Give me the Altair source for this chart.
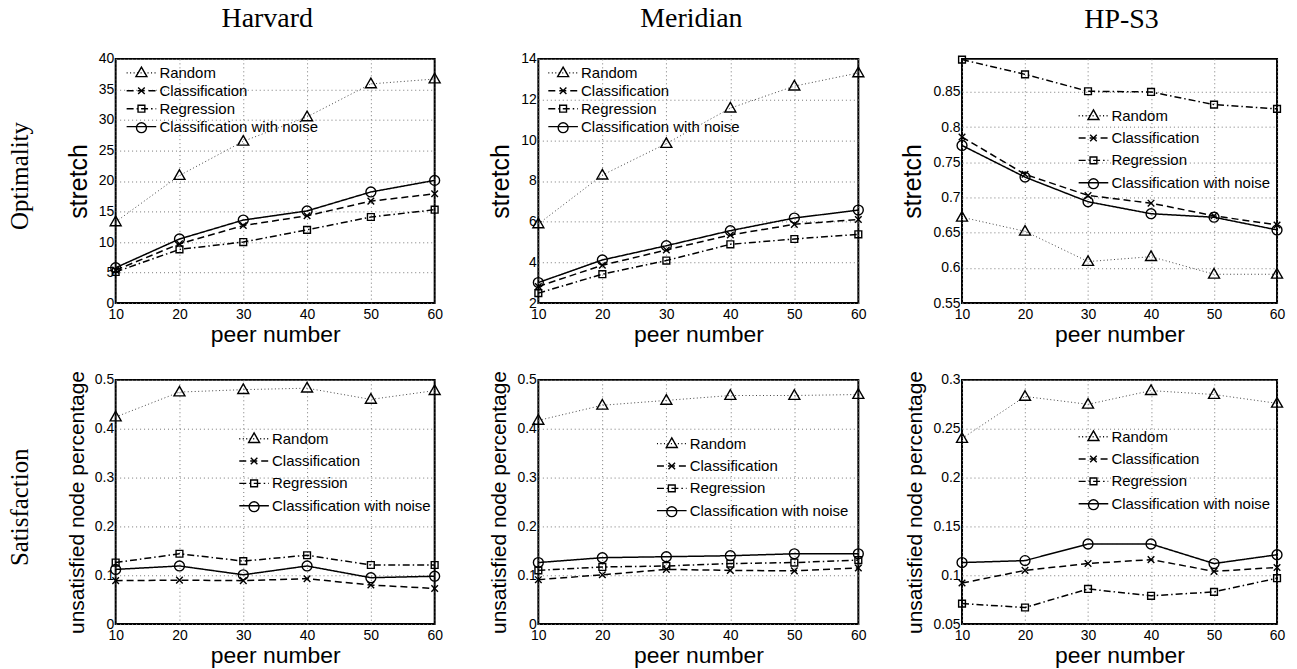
import altair as alt
import pandas as pd

peer_numbers = [10, 20, 30, 40, 50, 60]
series_names = ["Random", "Classification", "Regression", "Classification with noise"]

# Optimality (stretch)
harvard_stretch_random = [13.3, 20.9, 26.5, 30.5, 35.9, 36.7]
harvard_stretch_class = [5.4, 9.7, 12.7, 14.3, 16.7, 17.9]
harvard_stretch_regr = [5.1, 8.8, 10.0, 12.0, 14.1, 15.3]
harvard_stretch_noise = [5.8, 10.5, 13.6, 15.1, 18.2, 20.1]

meridian_stretch_random = [5.89, 8.29, 9.84, 11.58, 12.66, 13.31]
meridian_stretch_class = [2.82, 3.86, 4.61, 5.35, 5.87, 6.11]
meridian_stretch_regr = [2.49, 3.42, 4.09, 4.89, 5.15, 5.38]
meridian_stretch_noise = [3.01, 4.12, 4.82, 5.56, 6.18, 6.57]

hps3_stretch_random = [0.672, 0.652, 0.609, 0.616, 0.591, 0.591]
hps3_stretch_class = [0.786, 0.733, 0.703, 0.692, 0.674, 0.661]
hps3_stretch_regr = [0.896, 0.875, 0.851, 0.850, 0.832, 0.826]
hps3_stretch_noise = [0.774, 0.729, 0.694, 0.677, 0.672, 0.654]

# Satisfaction (unsatisfied node percentage)
harvard_sat_random = [0.424, 0.475, 0.480, 0.483, 0.460, 0.478]
harvard_sat_class = [0.089, 0.090, 0.089, 0.093, 0.080, 0.073]
harvard_sat_regr = [0.126, 0.144, 0.129, 0.141, 0.121, 0.121]
harvard_sat_noise = [0.112, 0.119, 0.101, 0.119, 0.095, 0.098]

meridian_sat_random = [0.417, 0.448, 0.458, 0.468, 0.468, 0.470]
meridian_sat_class = [0.091, 0.101, 0.112, 0.110, 0.109, 0.115]
meridian_sat_regr = [0.110, 0.117, 0.119, 0.124, 0.126, 0.131]
meridian_sat_noise = [0.126, 0.136, 0.138, 0.140, 0.144, 0.144]

hps3_sat_random = [0.240, 0.283, 0.275, 0.289, 0.285, 0.276]
hps3_sat_class = [0.092, 0.105, 0.112, 0.116, 0.104, 0.108]
hps3_sat_regr = [0.071, 0.067, 0.086, 0.079, 0.083, 0.097]
hps3_sat_noise = [0.113, 0.115, 0.132, 0.132, 0.112, 0.121]

dash_styles = [[1, 2.5], [7, 4], [7, 3, 1.5, 3], [1, 0]]
marker_paths = [
    "M0,-1.05L1,0.7L-1,0.7Z",
    "M-0.6,-0.6L0.6,0.6M-0.6,0.6L0.6,-0.6",
    "M-0.62,-0.62L0.62,-0.62L0.62,0.62L-0.62,0.62Z",
    "M-0.9,0A0.9,0.9 0 1,0 0.9,0A0.9,0.9 0 1,0 -0.9,0Z",
]
legend_line_path = "M-2.7,0H2.7"

SANS = "Liberation Sans"
SERIF = "Liberation Serif"
LFS = 15


def make_df(random, cls, regr, noise):
    rows = []
    for name, vals in zip(series_names, [random, cls, regr, noise]):
        for x, v in zip(peer_numbers, vals):
            rows.append({"peer": x, "value": v, "Series": name})
    return pd.DataFrame(rows)


def legend_common(lx, ly_center, spacing):
    return dict(title=None, orient="none", legendX=lx, legendY=ly_center - LFS / 2,
                symbolSize=121, symbolOffset=8.35, symbolStrokeColor="black",
                symbolStrokeWidth=1.4, symbolFillColor="transparent",
                labelFont=SANS, labelFontSize=LFS, labelColor="black",
                labelOffset=10.5, rowPadding=spacing - LFS, padding=0)


def panel(df, width, ydomain, yticks, yfmt, ytitle, ytitle_size, lx, ly, spacing, title=None, tdx=0):
    x = alt.X("peer:Q", scale=alt.Scale(domain=[10, 60], nice=False, zero=False),
              axis=alt.Axis(values=peer_numbers, format="d", title="peer number",
                            titleFontSize=23, titlePadding=3, labelPadding=4))
    y = alt.Y("value:Q", scale=alt.Scale(domain=ydomain, nice=False, zero=False),
              axis=alt.Axis(values=yticks, format=yfmt, title=ytitle,
                            titleFontSize=ytitle_size, titlePadding=7))
    base = alt.Chart(df)
    lines = base.mark_line(color="black").encode(
        x=x, y=y,
        strokeDash=alt.StrokeDash(
            "Series:N", sort=series_names,
            scale=alt.Scale(range=dash_styles),
            legend=alt.Legend(symbolType=legend_line_path, **legend_common(lx, ly, spacing)),
        ),
        strokeWidth=alt.condition("datum.Series == 'Random'", alt.value(1.0), alt.value(1.5)),
        stroke=alt.condition("datum.Series == 'Random'", alt.value("#444"), alt.value("black")),
    )
    points = base.mark_point(filled=False, size=121, strokeWidth=1.4, color="black", opacity=1).encode(
        x=x, y=y,
        shape=alt.Shape(
            "Series:N",
            scale=alt.Scale(domain=series_names, range=marker_paths),
            legend=alt.Legend(labelOpacity=0, **legend_common(lx, ly, spacing)),
        ),
    )
    ch = alt.layer(lines, points).properties(width=width, height=245)
    if title is not None:
        ch = ch.properties(title=alt.TitleParams(title, font=SERIF, fontSize=28, fontWeight="normal",
                                                 color="black", offset=-3, baseline="alphabetic",
                                                 frame="group", dx=tdx))
    return ch


p1 = panel(make_df(harvard_stretch_random, harvard_stretch_class, harvard_stretch_regr, harvard_stretch_noise),
           320, [0, 40], [0, 5, 10, 15, 20, 25, 30, 35, 40], "d", "stretch", 25, 10, 14, 17.0, "Harvard", -8)
p2 = panel(make_df(meridian_stretch_random, meridian_stretch_class, meridian_stretch_regr, meridian_stretch_noise),
           321, [2, 14], [2, 4, 6, 8, 10, 12, 14], "d", "stretch", 25, 9, 14, 17.0, "Meridian", -7)
p3 = panel(make_df(hps3_stretch_random, hps3_stretch_class, hps3_stretch_regr, hps3_stretch_noise),
           316, [0.55, 0.897], [0.55, 0.6, 0.65, 0.7, 0.75, 0.8, 0.85], ".2~f", "stretch", 25, 116, 57, 21.4, "HP-S3", 2)
p4 = panel(make_df(harvard_sat_random, harvard_sat_class, harvard_sat_regr, harvard_sat_noise),
           320, [0, 0.5], [0, 0.1, 0.2, 0.3, 0.4, 0.5], ".1~f", "unsatisfied node percentage", 21, 123, 59, 21.4)
p5 = panel(make_df(meridian_sat_random, meridian_sat_class, meridian_sat_regr, meridian_sat_noise),
           321, [0, 0.5], [0, 0.1, 0.2, 0.3, 0.4, 0.5], ".1~f", "unsatisfied node percentage", 21, 118, 64, 21.4)
p6 = panel(make_df(hps3_sat_random, hps3_sat_class, hps3_sat_regr, hps3_sat_noise),
           316, [0.05, 0.3], [0.05, 0.1, 0.15, 0.2, 0.25, 0.3], ".2~f", "unsatisfied node percentage", 21, 116, 57, 21.4)

row_title = dict(font=SERIF, fontSize=25, fontWeight="normal", color="black", orient="left",
                 anchor="middle", offset=32)

row1 = alt.hconcat(p1, p2, p3, spacing=104, bounds="flush",
                   title=alt.TitleParams("Optimality", **row_title)).resolve_scale(
    x="independent", y="independent", strokeDash="independent", shape="independent"
).resolve_legend(strokeDash="independent", shape="independent")
row2 = alt.hconcat(p4, p5, p6, spacing=104, bounds="flush",
                   title=alt.TitleParams("Satisfaction", dx=12, **row_title)).resolve_scale(
    x="independent", y="independent", strokeDash="independent", shape="independent"
).resolve_legend(strokeDash="independent", shape="independent")

chart = alt.vconcat(row1, row2, spacing=21).properties(
    padding={"left": 0, "top": -5, "right": 2, "bottom": 0}
).configure_view(stroke="black", strokeWidth=2).configure_axis(
    labelFont=SANS, labelFontSize=14, labelColor="black", labelPadding=2,
    titleFont=SANS, titleFontWeight="normal", titleColor="black",
    grid=True, gridDash=[1, 3], gridColor="#777", gridWidth=1, gridOpacity=1,
    ticks=False, domain=False, labelFlush=False, labelOverlap=False,
).configure_legend(labelLimit=400)

chart.save("out.html", embed_options={"renderer": "svg", "actions": False})
